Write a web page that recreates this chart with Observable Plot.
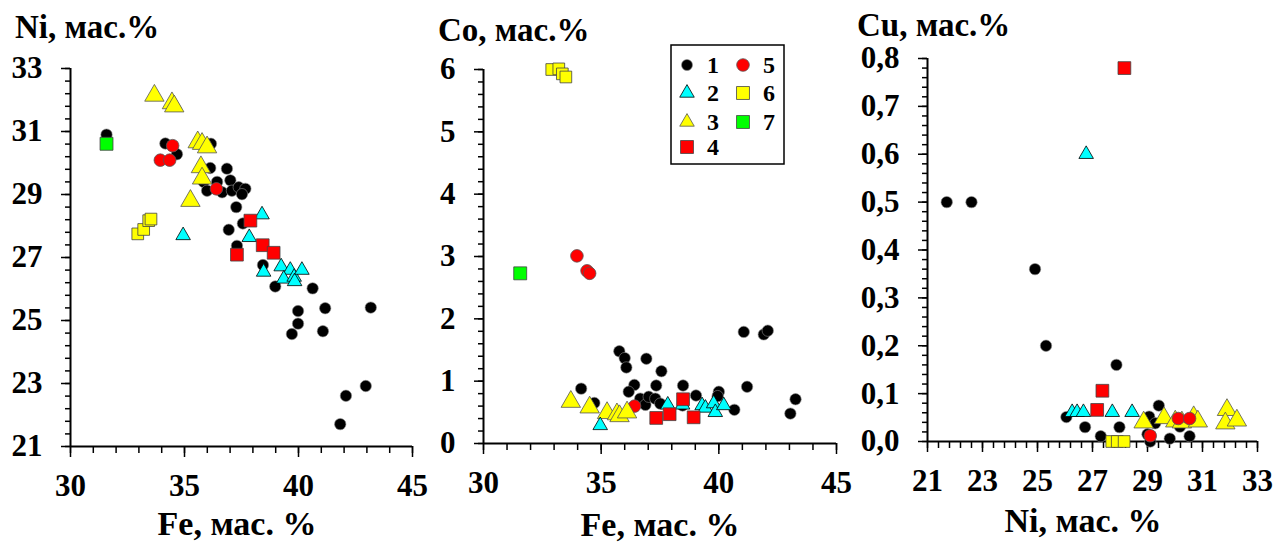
<!DOCTYPE html>
<html><head><meta charset="utf-8">
<script src="https://cdn.jsdelivr.net/npm/d3@7"></script>
<script src="https://cdn.jsdelivr.net/npm/@observablehq/plot@0.6"></script>
<style>
html,body{margin:0;padding:0;background:#fff;}
#root{position:relative;width:1273px;height:544px;overflow:hidden;background:#fff;}
.panel{position:absolute;top:0;}
#overlay{position:absolute;left:0;top:0;pointer-events:none;}
</style></head><body>
<div id="root"></div>
<script>
// ---------- DATA ----------
// Panel A: Fe (x) vs Ni (y)
const feNi_1 = [[31.58,30.9],[34.16,30.62],[34.67,30.28],[36.16,30.61],[36.13,29.84],[36.86,29.82],[37.01,29.45],[36.43,29.40],[35.84,29.4],[35.99,29.12],[36.65,29.07],[37.08,29.12],[37.38,29.23],[37.67,29.18],[37.52,29.01],[37.27,28.6],[37.56,28.08],[36.94,27.88],[37.30,27.37],[38.44,26.76],[38.98,26.08],[40.62,26.02],[39.98,25.30],[41.17,25.39],[43.17,25.41],[39.98,24.90],[39.71,24.57],[41.07,24.66],[42.95,22.92],[42.08,22.61],[41.83,21.71]];
const feNi_2 = [[34.94,27.70],[38.40,28.36],[37.84,27.64],[38.47,26.54],[39.24,26.71],[39.64,26.60],[39.35,26.32],[39.81,26.38],[39.83,26.24],[40.15,26.6]];
const feNi_3 = [[33.68,32.14],[34.45,31.9],[34.55,31.8],[35.58,30.66],[35.77,30.61],[35.99,30.5],[35.72,29.87],[35.77,29.51],[35.26,28.80]];
const feNi_4 = [[37.89,28.17],[38.43,27.39],[38.91,27.15],[37.30,27.09]];
const feNi_5 = [[33.94,30.09],[34.35,30.09],[34.48,30.55],[36.40,29.18]];
const feNi_6 = [[32.95,27.75],[33.21,27.89],[33.43,28.17],[33.53,28.22]];
const feNi_7 = [[31.58,30.61]];

// Panel B: Fe (x) vs Co (y)
const feCo_1 = [[34.15,0.88],[34.71,0.65],[35.77,1.48],[36.0,1.37],[36.07,1.22],[36.41,0.94],[36.17,0.83],[36.66,0.72],[36.88,0.62],[36.92,1.36],[37.02,0.75],[37.34,0.93],[37.30,0.72],[37.56,1.16],[37.51,0.64],[38.48,0.93],[38.46,0.61],[39.03,0.77],[40.0,0.83],[39.95,0.76],[40.66,0.54],[41.06,1.79],[41.2,0.91],[41.91,1.75],[42.08,1.81],[43.04,0.48],[43.26,0.71]];
const feCo_2 = [[34.96,0.29],[37.83,0.62],[38.46,0.62],[39.29,0.61],[39.43,0.57],[39.78,0.64],[39.85,0.5],[40.21,0.61]];
const feCo_3 = [[33.71,0.67],[34.51,0.58],[35.25,0.49],[35.67,0.47],[35.78,0.44],[36.1,0.5]];
const feCo_4 = [[37.34,0.41],[37.91,0.47],[38.48,0.71],[38.93,0.42]];
const feCo_5 = [[33.97,3.01],[34.40,2.77],[34.51,2.73],[36.42,0.60]];
const feCo_6 = [[32.9,6.0],[33.2,6.01],[33.35,5.93],[33.5,5.88]];
const feCo_7 = [[31.56,2.73]];

// Panel C: Ni (x) vs Cu (y)
const niCu_1 = [[21.70,0.50],[22.60,0.50],[24.91,0.36],[25.31,0.20],[27.87,0.16],[26.05,0.051],[26.73,0.03],[27.30,0.011],[27.98,0.03],[29.41,0.075],[29.06,0.052],[29.1,0.0],[29.0,0.015],[29.28,0.038],[29.81,0.006],[30.18,0.031],[30.53,0.011]];
const niCu_2 = [[26.77,0.60],[26.26,0.061],[26.44,0.061],[26.67,0.061],[27.72,0.061],[28.44,0.061]];
const niCu_3 = [[28.86,0.04],[29.6,0.049],[30.01,0.042],[30.25,0.04],[30.68,0.051],[30.83,0.042],[31.89,0.066],[31.83,0.038],[32.25,0.044]];
const niCu_4 = [[28.16,0.78],[27.36,0.106],[27.17,0.066]];
const niCu_5 = [[29.1,0.012],[30.12,0.048],[30.53,0.048]];
const niCu_6 = [[27.7,0],[27.9,0],[28.15,0]];

// Tick labels
const feTicks = [30, 35, 40, 45];
const niTicksA = [21, 23, 25, 27, 29, 31, 33];
const coTicks = [0, 1, 2, 3, 4, 5, 6];
const niTicksC = [21, 23, 25, 27, 29, 31, 33];
const cuTicks = [0, 0.1, 0.2, 0.3, 0.4, 0.5, 0.6, 0.7, 0.8];

// Titles & legend labels
const titlesTop = ["Ni, мас.%", "Co, мас.%", "Cu, мас.%"];
const titlesBottom = ["Fe, мас. %", "Fe, мас. %", "Ni, мас. %"];
const legendLabels = ["1", "2", "3", "4", "5", "6", "7"];

// ---------- STYLE ----------
const FONT = "'Liberation Serif', 'Times New Roman', Times, 'DejaVu Serif', 'Noto Serif', FreeSerif, serif";
const sty = {
  g1: {symbol: "circle", r: 5.7, fill: "#000000", stroke: "#8a8a8a", strokeWidth: 0.6},
  g2: {symbol: "triangle", r: 5.4, fill: "#00FFFF", stroke: "#000000", strokeWidth: 0.8},
  g3: {symbol: "triangle", r: 7.2, fill: "#FFFF00", stroke: "#555555", strokeWidth: 0.8},
  g4: {symbol: "square", r: 7.2, fill: "#FF0000", stroke: "#444444", strokeWidth: 0.8},
  g5: {symbol: "circle", r: 6.3, fill: "#FF0000", stroke: "#555555", strokeWidth: 0.8},
  g6: {symbol: "square", r: 6.6, fill: "#FFFF00", stroke: "#444444", strokeWidth: 0.8},
  g7: {symbol: "square", r: 7.3, fill: "#00FF00", stroke: "#444444", strokeWidth: 0.8}
};
const comma = d => d.toFixed(1).replace(".", ",");

function panel(cfg) {
  const xMinor = d3.range(cfg.xDomain[0], cfg.xDomain[1] + cfg.xStep / 2, cfg.xStep);
  const yMinor = d3.range(cfg.yDomain[0], cfg.yDomain[1] + cfg.yStep / 2, cfg.yStep);
  const tickText = {fontSize: 31, fontWeight: "bold", fontFamily: FONT};
  const marks = [
    Plot.axisX(xMinor, {tickSize: 7, strokeWidth: 1.5, fill: "none", tickFormat: () => "", label: null}),
    Plot.axisX(cfg.xMajor, {tickSize: 11, tickPadding: 16, strokeWidth: 1.5, tickFormat: cfg.xFmt, label: null, ...tickText}),
    Plot.axisY(yMinor, {tickSize: 5, strokeWidth: 1.5, fill: "none", tickFormat: () => "", label: null}),
    Plot.axisY(cfg.yMajor, {tickSize: 9, tickPadding: 19, strokeWidth: 1.5, tickFormat: cfg.yFmt, label: null, ...tickText}),
    Plot.ruleX([cfg.xDomain[0]], {strokeWidth: 2}),
    Plot.ruleY([cfg.yDomain[0]], {strokeWidth: 2}),
    ...cfg.groups.map(([k, data]) => Plot.dot(data, {x: d => d[0], y: d => d[1], ...sty[k]}))
  ];
  const el = Plot.plot({
    width: cfg.width, height: 544,
    marginLeft: cfg.ml, marginRight: cfg.mr, marginTop: cfg.mt, marginBottom: cfg.mb,
    x: {domain: cfg.xDomain},
    y: {domain: cfg.yDomain},
    style: {background: "transparent", color: "black", fontFamily: FONT, overflow: "visible"},
    marks
  });
  el.classList.add("panel");
  el.style.left = cfg.left + "px";
  return el;
}

const root = document.getElementById("root");
root.appendChild(panel({
  left: 0, width: 424, ml: 70, mr: 12, mt: 68, mb: 98,
  xDomain: [30, 45], yDomain: [21, 33], xStep: 1, yStep: 0.4,
  xMajor: feTicks, yMajor: niTicksA, xFmt: d => String(d), yFmt: d => String(d),
  groups: [["g1", feNi_1], ["g7", feNi_7], ["g6", feNi_6], ["g5", feNi_5], ["g3", feNi_3], ["g2", feNi_2], ["g4", feNi_4]]
}));
root.appendChild(panel({
  left: 424, width: 424, ml: 59, mr: 12, mt: 69, mb: 101,
  xDomain: [30, 45], yDomain: [0, 6], xStep: 1, yStep: 0.2,
  xMajor: feTicks, yMajor: coTicks, xFmt: d => String(d), yFmt: d => String(d),
  groups: [["g1", feCo_1], ["g7", feCo_7], ["g6", feCo_6], ["g5", feCo_5], ["g3", feCo_3], ["g2", feCo_2], ["g4", feCo_4]]
}));
root.appendChild(panel({
  left: 848, width: 425, ml: 79, mr: 16, mt: 58, mb: 103,
  xDomain: [21, 33], yDomain: [0, 0.8], xStep: 0.4, yStep: 0.02,
  xMajor: niTicksC, yMajor: cuTicks, xFmt: d => String(d), yFmt: comma,
  groups: [["g1", niCu_1], ["g6", niCu_6], ["g2", niCu_2], ["g4", niCu_4], ["g3", niCu_3], ["g5", niCu_5]]
}));

// ---------- TITLES & LEGEND (overlay) ----------
const ov = d3.select(root).append("svg").attr("id", "overlay")
  .attr("width", 1273).attr("height", 544)
  .style("font-family", FONT).style("font-weight", "bold");
const topPos = [[15, 38], [438, 41], [857, 36]];
const botPos = [[237, 535], [660, 536], [1083, 532]];
titlesTop.forEach((t, i) => ov.append("text").attr("x", topPos[i][0]).attr("y", topPos[i][1])
  .attr("font-size", 33).text(t));
titlesBottom.forEach((t, i) => ov.append("text").attr("x", botPos[i][0]).attr("y", botPos[i][1])
  .attr("text-anchor", "middle").attr("font-size", 34).text(t));

const lg = ov.append("g");
lg.append("rect").attr("x", 671).attr("y", 45).attr("width", 113).attr("height", 119)
  .attr("fill", "#fff").attr("stroke", "#000").attr("stroke-width", 1.5);
const legendItems = [
  ["g1", 687, 65, 5.5], ["g2", 687, 93, 5.4], ["g3", 687, 122, 5.4], ["g4", 687, 147, 7.3],
  ["g5", 743, 65, 6.3], ["g6", 743, 93, 7.3], ["g7", 743, 122, 7.3]
];
const symMap = {circle: d3.symbolCircle, triangle: d3.symbolTriangle, square: d3.symbolSquare};
legendItems.forEach(([k, x, y, r], i) => {
  const s = sty[k];
  lg.append("path").attr("transform", `translate(${x},${y})`)
    .attr("d", d3.symbol(symMap[s.symbol], Math.PI * r * r)())
    .attr("fill", s.fill).attr("stroke", s.stroke).attr("stroke-width", s.strokeWidth);
  lg.append("text").attr("x", x + 26).attr("y", y).attr("dy", "0.35em")
    .attr("text-anchor", "middle").attr("font-size", 24).text(legendLabels[i]);
});
</script>
</body></html>
